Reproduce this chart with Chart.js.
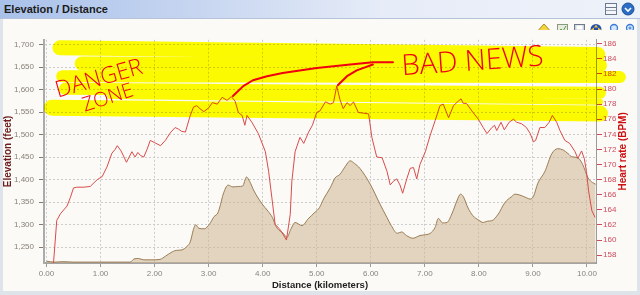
<!DOCTYPE html>
<html>
<head>
<meta charset="utf-8">
<script src="https://cdn.jsdelivr.net/npm/chart.js@4.4.1/dist/chart.umd.min.js"></script>
<style>
  html, body { margin: 0; padding: 0; background: #dfe4eb; }
  #frame { position: relative; width: 640px; height: 295px; overflow: hidden; font-family: "Liberation Sans", Arial, sans-serif; }
  #titlebar { position: absolute; left: 0; top: 0; width: 640px; height: 18px;
    background: linear-gradient(to right, #a9c1ea 0%, #c6d5f0 30%, #e6ecf8 60%, #eef2f9 100%);
    border-bottom: 1px solid #b5c3da; }
  #titlebar span { position: absolute; left: 4px; top: 3px; font-weight: bold; font-size: 11px; color: #1b1b1b; }
  #panel { position: absolute; left: 3px; top: 19px; width: 634px; height: 272px; background: #fbfaf6; }
  svg { position: absolute; left: 0; }
  canvas { position: absolute; left: 0; top: 30px; }
</style>
</head>
<body>
<div id="frame">
  <div id="titlebar"><span>Elevation / Distance</span></div>
  <svg width="640" height="18" style="top:0">
    <rect x="605.5" y="3.5" width="11" height="11" fill="#f4f6fa" stroke="#6c7a90"/>
    <line x1="606" y1="7.5" x2="616" y2="7.5" stroke="#6c7a90"/>
    <line x1="606" y1="10.5" x2="616" y2="10.5" stroke="#9aa6b8"/>
    <circle cx="628" cy="9" r="6" fill="#2b6cc4" stroke="#1d4f96"/>
    <path d="M625 8 L628 11 L631 8" stroke="#fff" stroke-width="1.6" fill="none"/>
  </svg>
  <div id="panel"></div>
  <svg width="640" height="18" style="top:20px">
    <polygon points="544,4 549,9.5 544,15 539,9.5" fill="#f5d442" stroke="#a68a1a"/>
    <rect x="557.5" y="4.5" width="10" height="10" fill="#e8ece0" stroke="#8a9a80"/>
    <polyline points="559,12 561,9 563,11 566,6" stroke="#5a9a40" fill="none"/>
    <rect x="574.5" y="4.5" width="10" height="10" fill="#cdd3dc" stroke="#6f7b8c"/>
    <rect x="576.5" y="5.5" width="6" height="4" fill="#ffffff"/>
    <circle cx="596" cy="9.5" r="5.5" fill="#1e4fb3"/>
    <path d="M596 4.5 L598 7.5 L594 7.5 Z M596 14.5 L598 11.5 L594 11.5 Z M591 9.5 L594 7.5 L594 11.5 Z M601 9.5 L598 7.5 L598 11.5 Z" fill="#f0c030"/>
    <circle cx="614" cy="8" r="3.5" fill="#d5e7fc" stroke="#3a7bd5" stroke-width="1.3"/>
    <line x1="611.5" y1="10.5" x2="608" y2="14.5" stroke="#3a7bd5" stroke-width="2"/>
    <circle cx="630" cy="8" r="3.5" fill="#d5e7fc" stroke="#3a7bd5" stroke-width="1.3"/>
    <line x1="627.5" y1="10.5" x2="624" y2="14.5" stroke="#3a7bd5" stroke-width="2"/>
    <path d="M628.5 8 H631.5 M630 6.5 V9.5" stroke="#3a7bd5"/>
  </svg>
  <canvas id="chart" width="640" height="261"></canvas>
</div>
<script>
// distance (km) / elevation (ft)
const distKm = [0.00, 0.15, 0.30, 0.50, 0.80, 1.00, 1.30, 1.55, 1.62, 1.70, 1.80, 1.95, 2.10, 2.20, 2.30, 2.40,
  2.50, 2.60, 2.66, 2.72, 2.76, 2.82, 2.92, 3.02, 3.10, 3.17, 3.22, 3.27, 3.36, 3.45, 3.55, 3.63,
  3.70, 3.76, 3.84, 3.99, 4.10, 4.18, 4.24, 4.30, 4.38, 4.45, 4.52, 4.60, 4.73, 4.84, 4.97, 5.05,
  5.13, 5.25, 5.34, 5.43, 5.52, 5.62, 5.70, 5.80, 5.99, 6.17, 6.30, 6.38, 6.49, 6.57, 6.66, 6.78,
  6.91, 7.02, 7.10, 7.19, 7.25, 7.33, 7.41, 7.50, 7.60, 7.66, 7.71, 7.80, 7.89, 8.00, 8.08, 8.16,
  8.24, 8.36, 8.48, 8.60, 8.67, 8.78, 8.88, 8.95, 9.01, 9.09, 9.22, 9.35, 9.46, 9.56, 9.65, 9.72,
  9.83, 9.92, 10.02, 10.10, 10.16];
const elevFt = [1219, 1217, 1218, 1217, 1217, 1217, 1217, 1217, 1224, 1225, 1222, 1222, 1223, 1230, 1238, 1243,
  1244, 1252, 1262, 1290, 1300, 1292, 1291, 1302, 1318, 1326, 1345, 1368, 1388, 1384, 1385, 1386,
  1406, 1396, 1375, 1346, 1330, 1316, 1298, 1288, 1281, 1272, 1290, 1305, 1298, 1313, 1328, 1338,
  1358, 1382, 1404, 1412, 1428, 1442, 1436, 1425, 1390, 1346, 1316, 1298, 1281, 1284, 1276, 1270,
  1276, 1278, 1281, 1294, 1314, 1304, 1305, 1324, 1355, 1368, 1363, 1337, 1320, 1310, 1305, 1308,
  1309, 1324, 1349, 1362, 1368, 1365, 1360, 1357, 1363, 1392, 1418, 1458, 1469, 1466, 1458, 1451,
  1449, 1434, 1404, 1394, 1390];

// distance (km) / heart rate (BPM)
const hrKm = [0.12, 0.19, 0.26, 0.38, 0.44, 0.50, 0.56, 0.69, 0.81, 0.88, 0.94, 1.03, 1.12, 1.21, 1.27, 1.31,
  1.38, 1.48, 1.58, 1.64, 1.69, 1.74, 1.80, 1.86, 1.92, 2.00, 2.11, 2.20, 2.29, 2.38, 2.44, 2.50,
  2.57, 2.66, 2.72, 2.78, 2.84, 2.91, 3.00, 3.07, 3.16, 3.25, 3.34, 3.42, 3.49, 3.55, 3.62, 3.67,
  3.71, 3.80, 3.92, 4.05, 4.11, 4.17, 4.23, 4.33, 4.44, 4.51, 4.54, 4.60, 4.69, 4.76, 4.85, 4.92,
  5.00, 5.06, 5.16, 5.25, 5.31, 5.37, 5.43, 5.49, 5.56, 5.62, 5.68, 5.77, 5.87, 5.96, 6.02, 6.11,
  6.21, 6.30, 6.36, 6.42, 6.48, 6.54, 6.59, 6.67, 6.73, 6.79, 6.85, 6.91, 7.01, 7.10, 7.19, 7.28,
  7.34, 7.44, 7.53, 7.62, 7.67, 7.71, 7.77, 7.87, 7.99, 8.08, 8.15, 8.24, 8.29, 8.33, 8.41, 8.47,
  8.56, 8.64, 8.70, 8.79, 8.88, 8.95, 9.01, 9.05, 9.13, 9.22, 9.30, 9.36, 9.44, 9.50, 9.59, 9.68,
  9.78, 9.83, 9.90, 9.95, 9.99, 10.03, 10.09, 10.15];
const hrBpm = [156.0, 162.6, 163.5, 164.5, 165.6, 166.9, 167.0, 167.0, 167.1, 167.6, 168.0, 168.4, 169.7, 171.5, 172.0, 172.5,
  171.8, 170.3, 171.7, 171.0, 171.6, 171.2, 171.0, 172.0, 173.2, 172.9, 172.5, 173.2, 174.2, 174.9, 174.7, 174.4,
  174.3, 176.5, 177.6, 177.8, 177.4, 177.0, 177.5, 178.2, 178.0, 178.9, 178.5, 179.0, 178.4, 176.9, 176.5, 175.2,
  176.5, 175.6, 174.1, 171.7, 169.1, 165.6, 162.1, 161.3, 160.0, 163.4, 167.8, 171.7, 173.6, 172.8, 174.3, 175.2,
  176.9, 177.1, 178.3, 178.0, 178.2, 180.4, 178.6, 177.4, 178.2, 177.8, 178.3, 176.9, 176.8, 176.7, 173.6, 171.0,
  170.9, 169.1, 167.3, 167.8, 168.1, 167.3, 166.2, 168.2, 169.5, 169.6, 168.1, 170.0, 171.7, 173.9, 175.8, 177.8,
  178.0, 176.2, 177.8, 178.4, 178.7, 178.1, 178.1, 177.1, 176.0, 174.9, 174.1, 174.9, 175.2, 174.5, 175.6, 174.6,
  175.6, 176.0, 175.6, 175.4, 174.9, 174.1, 173.0, 173.2, 174.9, 174.9, 175.6, 176.5, 175.6, 174.5, 173.2, 172.8,
  171.7, 170.8, 171.8, 170.8, 169.1, 166.5, 163.9, 163.0];

const distTicks = [0, 1, 2, 3, 4, 5, 6, 7, 8, 9, 10];
const elevTicks = [1250, 1300, 1350, 1400, 1450, 1500, 1550, 1600, 1650, 1700];
const hrTicks = [158, 160, 162, 164, 166, 168, 170, 172, 174, 176, 178, 180, 182, 184, 186];

// hand-drawn marks on top, in km / ft
const highlighter = [
  { from: [0.25, 1693], to: [10.20, 1678], w: 15 },
  { from: [0.65, 1658], to: [10.24, 1654], w: 14 },
  { from: [0.29, 1630], to: [10.61, 1628], w: 12 },
  { from: [0.34, 1602], to: [10.24, 1593], w: 12 },
  { from: [1.18, 1586], to: [10.24, 1573], w: 6 },
  { from: [0.10, 1560], to: [10.24, 1547], w: 16 }
];
const arrowA = [[3.45, 1586], [3.64, 1608], [3.82, 1621], [4.08, 1630], [4.37, 1637], [5.00, 1648], [5.62, 1656], [6.04, 1661], [6.41, 1661]];
const arrowB = [[5.39, 1610], [5.56, 1630], [5.74, 1643], [6.04, 1656]];
const notes = [
  { text: 'DANGER', at: [0.21, 1582], angle: -16, size: 23 },
  { text: 'ZONE', at: [0.71, 1551], angle: -18, size: 20 },
  { text: 'BAD NEWS', at: [6.58, 1632], angle: -4, size: 29 }
];

const FONT = '"Liberation Sans", Arial, sans-serif';

function fixTicks(values) {
  return function (scale) {
    scale.ticks = values.map(v => ({ value: v }));
  };
}

const overlay = {
  id: 'overlay',
  beforeDraw(chart) {
    const ctx = chart.ctx;
    ctx.save();
    ctx.fillStyle = '#fbfaf6';
    ctx.fillRect(3, 0, chart.width - 6, chart.height);
    ctx.restore();
  },
  afterDatasetsDraw(chart) {
    const { ctx, chartArea, scales } = chart;
    const px = p => [scales.x.getPixelForValue(p[0]), scales.y.getPixelForValue(p[1])];

    // right axis title reads bottom-to-top like the left one
    ctx.save();
    ctx.translate(scales.hr.right - 17, (chartArea.top + chartArea.bottom) / 2);
    ctx.rotate(-Math.PI / 2);
    ctx.font = 'bold 10px ' + FONT;
    ctx.fillStyle = '#cc1010';
    ctx.textAlign = 'center';
    ctx.textBaseline = 'middle';
    ctx.fillText('Heart rate (BPM)', 0, 0);
    ctx.restore();

    // yellow highlighter
    ctx.save();
    ctx.globalCompositeOperation = 'multiply';
    ctx.strokeStyle = '#ffff00';
    ctx.lineCap = 'round';
    highlighter.forEach(s => {
      const a = px(s.from), b = px(s.to);
      ctx.lineWidth = s.w;
      ctx.beginPath();
      ctx.moveTo(a[0], a[1]);
      ctx.lineTo(b[0], b[1]);
      ctx.stroke();
    });
    ctx.restore();

    // red pen
    ctx.save();
    ctx.strokeStyle = '#f00010';
    ctx.fillStyle = '#f00010';
    ctx.lineWidth = 2;
    ctx.lineJoin = 'round';
    ctx.lineCap = 'round';
    [arrowA, arrowB].forEach(path => {
      ctx.beginPath();
      path.forEach((p, i) => {
        const q = px(p);
        if (i === 0) ctx.moveTo(q[0], q[1]); else ctx.lineTo(q[0], q[1]);
      });
      ctx.stroke();
    });
    notes.forEach(n => {
      const q = px(n.at);
      ctx.save();
      ctx.translate(q[0], q[1]);
      ctx.rotate(n.angle * Math.PI / 180);
      ctx.font = '300 ' + n.size + 'px "Open Sans", ' + FONT;
      ctx.textBaseline = 'alphabetic';
      ctx.fillText(n.text, 0, 0);
      ctx.restore();
    });
    ctx.restore();
  }
};

new Chart('chart', {
  type: 'line',
  data: {
    datasets: [
      {
        label: 'Heart rate',
        data: hrKm.map((k, i) => ({ x: k, y: hrBpm[i] })),
        yAxisID: 'hr',
        borderColor: '#d94b4b',
        borderWidth: 1,
        pointRadius: 0,
        tension: 0,
        fill: false,
        order: 0
      },
      {
        label: 'Elevation',
        data: distKm.map((k, i) => ({ x: k, y: elevFt[i] })),
        yAxisID: 'y',
        borderColor: '#9b7c55',
        backgroundColor: 'rgba(205,181,144,0.55)',
        borderWidth: 1,
        pointRadius: 0,
        cubicInterpolationMode: 'monotone',
        fill: 'start',
        order: 1
      }
    ]
  },
  options: {
    responsive: false,
    animation: false,
    layout: { padding: { top: 6, left: 0, right: 0, bottom: 0 } },
    plugins: { legend: { display: false }, tooltip: { enabled: false } },
    scales: {
      x: {
        type: 'linear',
        min: -0.046,
        max: 10.167,
        afterBuildTicks: fixTicks(distTicks),
        afterFit(scale) { scale.height = 28; },
        ticks: {
          autoSkip: false, maxRotation: 0, padding: 2,
          color: '#858585', font: { family: FONT, size: 8 },
          callback: v => v.toFixed(2)
        },
        grid: { color: '#cccccc', tickColor: '#9a9a9a', tickLength: 4 },
        border: { color: '#a3a3a3', width: 2, dash: [2, 2] },
        title: {
          display: true, text: 'Distance (kilometers)', color: '#222222',
          font: { family: FONT, size: 9.5, weight: 'bold' }, padding: { top: 0, bottom: 0 }
        }
      },
      y: {
        position: 'left',
        min: 1215,
        max: 1710.9,
        afterBuildTicks: fixTicks(elevTicks),
        afterFit(scale) { scale.width = 44; },
        ticks: {
          autoSkip: false, padding: 5,
          color: '#878078', font: { family: FONT, size: 8 },
          callback: v => v.toLocaleString('en-US')
        },
        grid: { color: '#cccccc', tickColor: '#857a70', tickLength: 5 },
        border: { color: '#ababab', width: 2, dash: [2, 2] },
        title: {
          display: true, text: 'Elevation (feet)', color: '#6b1e1e',
          font: { family: FONT, size: 10, weight: 'bold' }, padding: { top: 2, bottom: 0 }
        }
      },
      hr: {
        position: 'right',
        min: 156.96,
        max: 186.52,
        afterBuildTicks: fixTicks(hrTicks),
        afterFit(scale) { scale.width = 44; },
        ticks: {
          autoSkip: false, padding: 1,
          color: '#cf4a5e', font: { family: FONT, size: 8 }
        },
        grid: { drawOnChartArea: false, tickColor: '#cf4a5e', tickLength: 6 },
        border: { color: '#9a9a9a', width: 1 }
      }
    }
  },
  plugins: [overlay]
});
</script>
</body>
</html>
